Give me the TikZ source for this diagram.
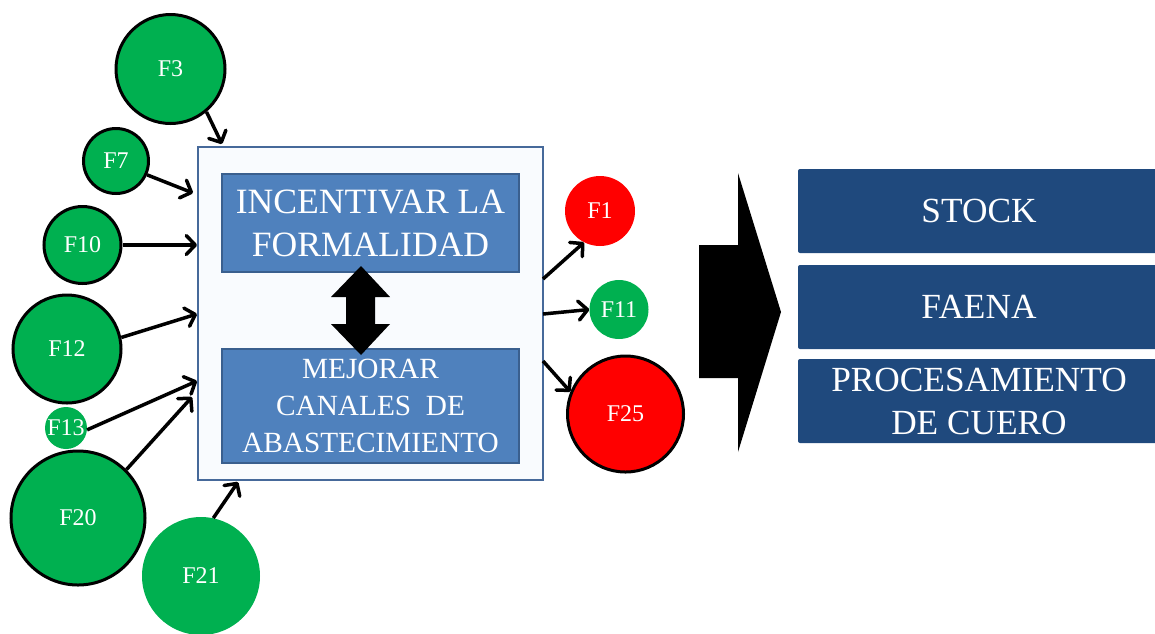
\documentclass[tikz,border=0pt]{standalone}
\usepackage{fontspec}
\setmainfont{Liberation Serif}
\usetikzlibrary{arrows.meta}
\definecolor{fgreen}{HTML}{00B050}
\definecolor{fred}{HTML}{FF0000}
\definecolor{boxfill}{HTML}{F9FBFE}
\definecolor{boxline}{HTML}{46699A}
\definecolor{inblue}{HTML}{4F81BD}
\definecolor{inline}{HTML}{3A5F8E}
\definecolor{navy}{HTML}{1F497D}
\begin{document}
\begin{tikzpicture}[x=1pt,y=-1pt,
  fc/.style={circle, inner sep=0pt, text=white, font=\fontsize{24}{24}\selectfont},
  gb/.style={fc, fill=fgreen, draw=black, line width=3pt},
  gn/.style={fc, fill=fgreen},
  rb/.style={fc, fill=fred, draw=black, line width=3pt},
  rn/.style={fc, fill=fred},
  arr/.style={line width=3.5pt, -{Straight Barb[length=9pt,width=19pt,line cap=round,line join=round]}},
  inbox/.style={rectangle, fill=inblue, draw=inline, line width=1.5pt, text=white, align=center, inner sep=0pt},
  outbox/.style={rectangle, rounded corners=2pt, fill=navy, text=white, align=center, inner sep=0pt, font=\fontsize{35.3}{43}\selectfont},
]
\useasboundingbox (0,0) rectangle (1155,633);

% main box
\draw[fill=boxfill, draw=boxline, line width=2pt] (198,147) rectangle (543,480);
\node[inbox, minimum width=297pt, minimum height=98pt, font=\fontsize{35.6}{43}\selectfont] (inc) at (370.5,223) {INCENTIVAR LA\\FORMALIDAD};
\node[inbox, minimum width=297pt, minimum height=114pt, font=\fontsize{29.3}{37}\selectfont] (mej) at (370.5,406) {MEJORAR\\CANALES\ \ DE\\ABASTECIMIENTO};

% double arrow
\fill[black] (361,266) -- (390,297) -- (375,297) -- (375,324) -- (390,324) -- (361,355) -- (331,324) -- (346,324) -- (346,297) -- (331,297) -- cycle;

% circles
\node[gb, minimum size=109pt] (F3) at (170.5,69) {F3};
\node[gb, minimum size=65pt] (F7) at (116,161) {F7};
\node[gb, minimum size=77pt] (F10) at (82.5,245) {F10};
\node[gb, minimum size=108pt] (F12) at (67,349) {F12};
\node[gn, minimum size=42pt] (F13) at (66,428) {F13};
\node[gb, minimum size=134pt] (F20) at (78,518) {F20};
\node[gn, minimum size=118pt] (F21) at (201,576) {F21};
\node[rn, minimum size=70pt] (F1) at (600,211) {F1};
\node[gn, minimum size=59pt] (F11) at (619,309.5) {F11};
\node[rb, minimum size=116pt] (F25) at (625.5,414) {F25};

% arrow end points on the main box
\coordinate (e3) at (222,144);
\coordinate (e7) at (193,193);
\coordinate (e10) at (197,245);
\coordinate (e12) at (197,314);
\coordinate (e13) at (197,381);
\coordinate (e20) at (192,397);
\coordinate (e21) at (238,482);
\coordinate (s1) at (543,279);
\coordinate (s11) at (543,314);
\coordinate (s25) at (543,361);

\draw[arr] (F3.310) -- (e3);
\draw[arr] (F7.-24) -- (e7);
\draw[arr] (F10.0) -- (e10);
\draw[arr] (F12.12) -- (e12);
\draw[arr] (F13.-5) -- (e13);
\draw[arr] (F20.45) -- (e20);
\draw[arr] (F21.78) -- (e21);
\draw[arr] (s1) -- (F1.243);
\draw[arr] (s11) -- (F11.180);
\draw[arr] (s25) -- (F25.158);

% big arrow
\fill[black] (699,245) -- (738,245) -- (738,173) -- (781,312) -- (738,452) -- (738,378) -- (699,378) -- cycle;

% right boxes
\node[outbox, minimum width=362pt, minimum height=84pt] (stock) at (979,211) {STOCK};
\node[outbox, minimum width=362pt, minimum height=84pt] (faena) at (979,307) {FAENA};
\node[outbox, minimum width=362pt, minimum height=84pt] (proc) at (979,401) {PROCESAMIENTO\\DE CUERO};
\end{tikzpicture}
\end{document}
